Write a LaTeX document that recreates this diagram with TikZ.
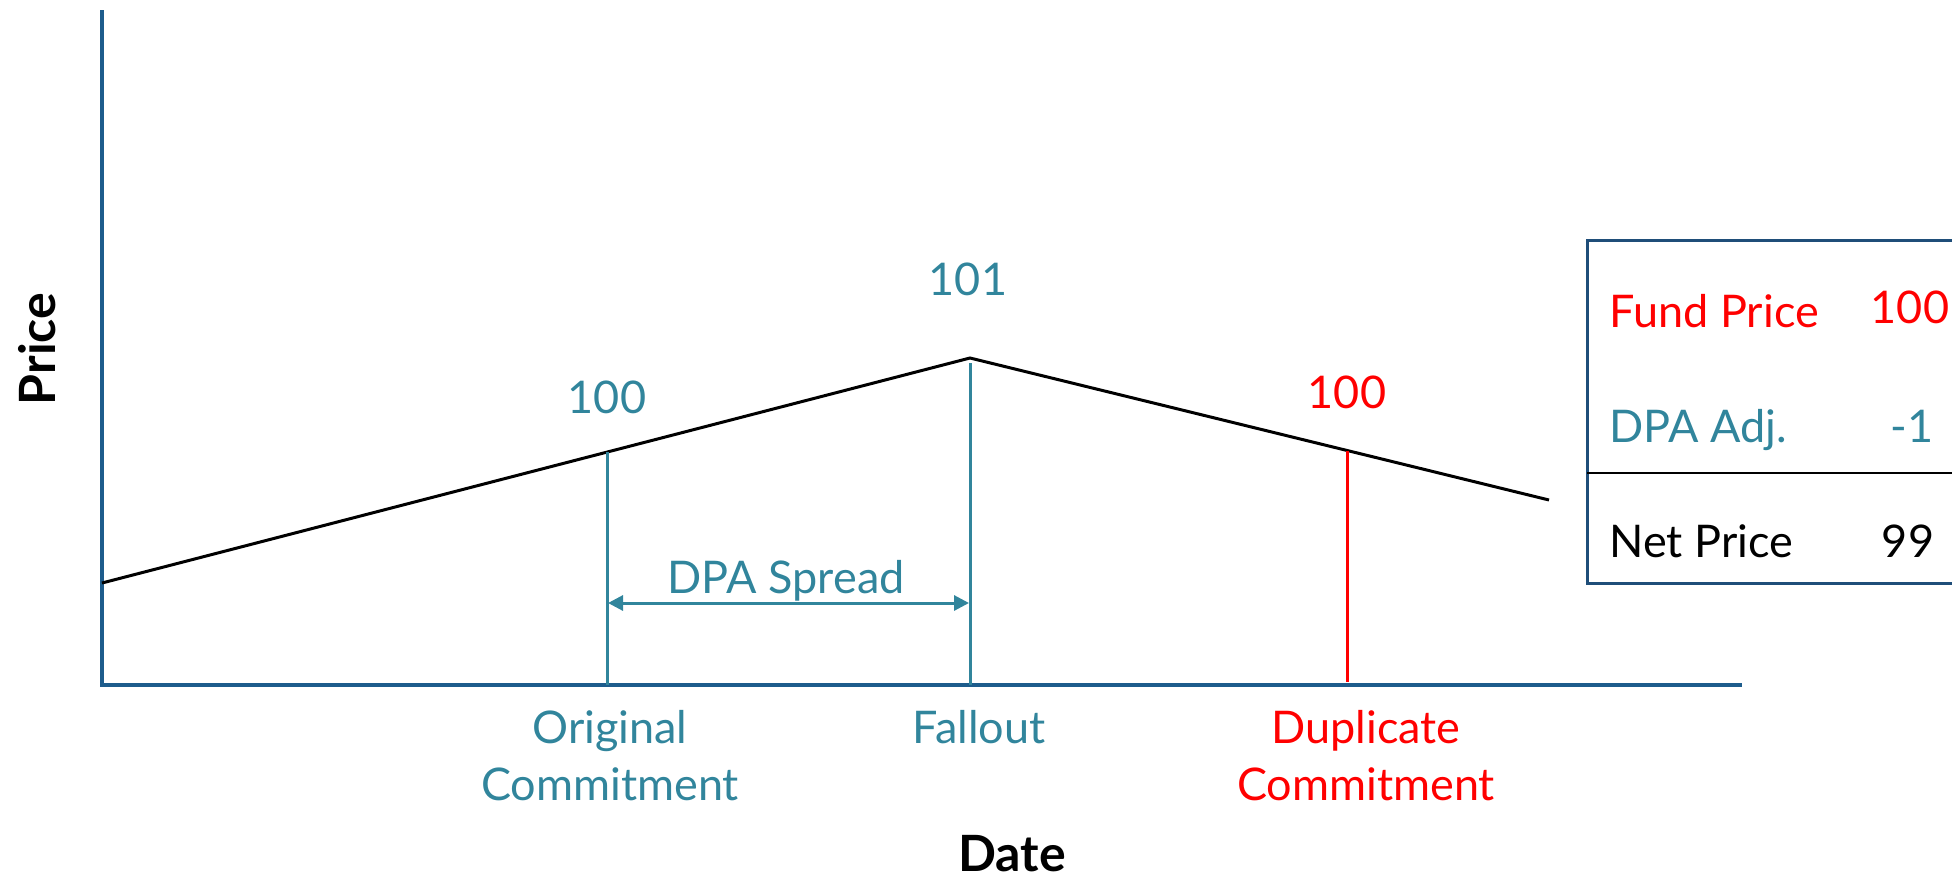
\documentclass[tikz,border=0pt]{standalone}
\usepackage{fontspec}
\setmainfont{Lato}
\usetikzlibrary{arrows.meta}
\definecolor{dpateal}{HTML}{31859C}
\definecolor{axisblue}{HTML}{1D5C8C}
\definecolor{boxblue}{HTML}{1F4E79}
\definecolor{dupred}{HTML}{FF0000}

\begin{document}
\begin{tikzpicture}[x=0.5pt, y=-0.5pt, line width=1.5pt,
        every node/.append style={font=\fontsize{22.5}{28.5}\selectfont, inner sep=0pt, anchor=base}]
      \tikzstyle{axis} = [draw=axisblue, line width=1.7pt]
      \tikzstyle{dpa} = [color=dpateal]
      \tikzstyle{dup} = [color=dupred]
      \tikzstyle{title} = [font=\fontsize{25}{30}\selectfont\bfseries, anchor=base]
      \tikzstyle{spread} = [dpa, {Triangle[length=7.5pt,width=7.5pt]}-{Triangle[length=7.5pt,width=7.5pt]}]
      \useasboundingbox (0,0) rectangle (1952,878);
      \coordinate (origin) at (102,685);
      \coordinate (ytop) at (102,10);
      \coordinate (xend) at (1742,685);
      \coordinate (start) at (102,583);
      \coordinate (orig) at (607,452);
      \coordinate (peak) at (970,358);
      \coordinate (dup) at (1347,451);
      \coordinate (finish) at (1549,500);
      \coordinate (origfoot) at (607,685);
      \coordinate (fallfoot) at (970,685);
      \coordinate (dupfoot) at (1347,682);
      \coordinate (sprL) at (608,603);
      \coordinate (sprR) at (969,603);
      \draw[axis] (ytop) -- (origin) -- (xend);
      \draw (start) -- (peak) -- (finish);
      \draw[dpa] (orig) -- (origfoot);
      \draw[dpa] ([yshift=-2.5pt]peak) -- (fallfoot);
      \draw[dup] (dup) -- (dupfoot);
      \draw[spread] (sprL) -- (sprR);
      \node (spreadlabel) [dpa] at (786,593) {DPA Spread};
      \node (origval) [dpa] at (607,413) {100};
      \node (peakval) [dpa] at (968,295) {101};
      \node (dupval) [dup] at (1347,408) {100};
      \node (origlabel) [dpa, align=center] at (610,800) {Original\\Commitment};
      \node (falllabel) [dpa] at (979,743) {Fallout};
      \node (duplabel) [dup, align=center] at (1366,800) {Duplicate\\Commitment};
      \node (pricelabel) [title, rotate=90] at (55,349) {Price};
      \node (datelabel) [title] at (1012,871) {Date};
      \coordinate (boxtl) at (1587,240);
      \coordinate (boxbr) at (1975,583);
      \coordinate (divL) at (1587,473);
      \coordinate (divR) at (1975,473);
      \draw[draw=boxblue, line width=1.5pt] (boxtl) rectangle (boxbr);
      \draw[line width=1pt] (divL) -- (divR);
      \node (fundname) [dup, anchor=base west] at (1608,327) {Fund Price};
      \node (fundval) [dup] at (1910,323) {100};
      \node (adjname) [dpa, anchor=base west] at (1608,442) {DPA Adj.};
      \node (adjval) [dpa] at (1912,442) {-1};
      \node (netname) [anchor=base west] at (1608,557) {Net Price};
      \node (netval) at (1908,557) {99};
    \end{tikzpicture}
\end{document}
